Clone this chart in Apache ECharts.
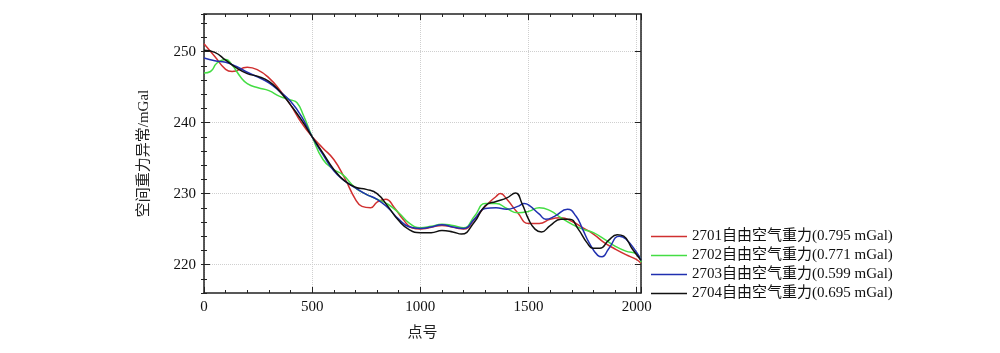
<!DOCTYPE html>
<html>
<head>
	<meta charset="utf-8">
	<title>空间重力异常</title>
	<script src="https://cdn.jsdelivr.net/npm/echarts@6/dist/echarts.min.js"></script>
	<style>
		html,body{margin:0;padding:0;background:#fff}
	</style>
</head>
<body>
<div id="main_echarts" style="width: 1000px;height:353px;"></div>
<script>
	// 数据：[点号, 空间重力异常 mGal]
	var names = ['2701自由空气重力(0.795 mGal)', '2702自由空气重力(0.771 mGal)', '2703自由空气重力(0.599 mGal)', '2704自由空气重力(0.695 mGal)'];
	var colors = ['#d03030', '#44dd44', '#2030b0', '#111111'];
	var yLabels = [220, 230, 240, 250];
	var xLabels = [0, 500, 1000, 1500, 2000];

	var red = [[0,251.1],[50,249.3],[100,247.5],[130,247.2],[200,247.8],[250,247.4],[300,246.3],[350,244.6],[400,242.5],[450,240],[500,238],[550,236.4],[600,234.8],[650,232.2],[700,229.2],[730,228.2],[770,228],[800,228.8],[840,229.2],[880,228],[920,226.4],[960,225.2],[1000,225],[1100,225.5],[1200,225],[1250,226.4],[1300,228.2],[1350,229.6],[1370,230],[1400,229.2],[1450,227.3],[1500,225.8],[1550,225.8],[1600,226.4],[1650,226.6],[1700,226.1],[1750,225.2],[1800,224.3],[1850,223.1],[1900,222.2],[1950,221.4],[2000,220.7],[2020,220.2]];
	var green = [[0,247],[30,247.2],[60,248.4],[100,248.9],[130,248.1],[170,246.4],[200,245.5],[250,244.9],[300,244.5],[350,243.7],[400,243.2],[430,242.8],[460,241],[500,238],[550,234.8],[600,233.4],[640,232.7],[700,230.8],[750,229.9],[800,229.2],[850,228.5],[900,227.3],[950,225.8],[1000,225.2],[1050,225.4],[1100,225.7],[1150,225.5],[1200,225.2],[1250,226.8],[1300,228.6],[1350,228.6],[1400,227.9],[1450,227.3],[1500,227.5],[1550,228],[1600,227.6],[1650,226.6],[1700,225.7],[1750,225],[1800,224.5],[1850,223.6],[1900,222.6],[1950,221.9],[2000,221.5],[2020,220.3]];
	var blue = [[0,249.1],[50,248.7],[100,248.5],[150,247.9],[200,247.1],[250,246.4],[300,245.6],[350,244.4],[400,243],[450,240.9],[500,238],[550,235.5],[600,233.2],[650,231.8],[700,230.8],[750,229.9],[800,229.2],[850,228],[900,226.4],[950,225.3],[1000,225.1],[1050,225.3],[1100,225.6],[1150,225.3],[1200,225.1],[1250,226.4],[1300,227.9],[1350,228],[1400,227.8],[1450,228.2],[1480,228.6],[1500,228.4],[1550,227.1],[1580,226.4],[1620,226.8],[1680,227.8],[1720,226.8],[1750,225],[1780,223.1],[1820,221.3],[1840,221.1],[1870,222.2],[1920,224],[1950,223.6],[2000,221.7],[2020,220.6]];
	var black = [[0,250.2],[50,249.9],[100,248.8],[150,247.7],[200,246.9],[250,246.5],[300,245.8],[350,244.4],[400,242.5],[450,240.4],[500,238],[550,235.7],[600,233.4],[650,231.8],[700,230.9],[750,230.6],[800,230],[850,228.2],[900,226.2],[950,224.9],[1000,224.5],[1050,224.5],[1100,224.8],[1150,224.6],[1190,224.3],[1250,226],[1300,228.3],[1350,228.9],[1400,229.4],[1440,230.1],[1470,228.6],[1500,226.4],[1530,225],[1560,224.6],[1600,225.5],[1650,226.4],[1690,226.4],[1730,225],[1770,223.1],[1800,222.3],[1830,222.3],[1870,223.4],[1910,224.2],[1940,224],[1980,222.2],[2020,220.6]];
	var seriesData = [red, green, blue, black];

	var font = '"Liberation Serif", "Noto Sans CJK SC", serif';
	var axisColor = '#222';
	var yMin = 216, yMax = 255.3, xMax = 2020;

	var chartDom = document.getElementById('main_echarts');
	var myChart = echarts.init(chartDom);

	var minorY = {
		min: yMin, max: yMax, interval: 2,
		axisLine: {show: false},
		axisTick: {show: true, inside: true, length: 3, lineStyle: {color: axisColor}},
		axisLabel: {show: false},
		splitLine: {show: false}
	};
	var majorYExtra = {
		min: yMin, max: yMax,
		axisLine: {show: true, onZero: false, lineStyle: {color: axisColor, width: 1.5}},
		axisTick: {show: true, inside: true, length: 6, customValues: yLabels, lineStyle: {color: axisColor}},
		axisLabel: {show: false},
		splitLine: {show: false}
	};

	var option = {
		animation: false,
		textStyle: {fontFamily: font},
		color: colors,
		grid: {left: 204, right: 359, top: 14, bottom: 60},
		legend: {
			orient: 'vertical',
			left: 646,
			top: 224,
			icon: 'rect',
			itemWidth: 36,
			itemHeight: 1.5,
			itemGap: 4,
			textStyle: {fontFamily: font, fontSize: 15, lineHeight: 14, color: '#111'},
			data: names
		},
		xAxis: [{
			type: 'value', min: 0, max: xMax, interval: 500,
			name: '点号', nameLocation: 'middle', nameGap: 33,
			nameTextStyle: {fontFamily: font, fontSize: 15, color: '#222'},
			axisLine: {show: true, onZero: false, lineStyle: {color: axisColor, width: 1.5}},
			axisTick: {show: true, inside: true, length: 6, lineStyle: {color: axisColor}},
			minorTick: {show: true, splitNumber: 5, length: 3, lineStyle: {color: axisColor}},
			axisLabel: {
				fontSize: 15, color: '#111', margin: 7,
				customValues: xLabels,
				formatter: function (v) { return String(v); }
			},
			splitLine: {show: true, lineStyle: {color: '#cfcfcf', type: 'dotted'}}
		}, {
			type: 'value', min: 0, max: xMax, interval: 500, position: 'top',
			axisLine: {show: true, onZero: false, lineStyle: {color: axisColor, width: 1.5}},
			axisTick: {show: true, inside: true, length: 6, lineStyle: {color: axisColor}},
			minorTick: {show: true, splitNumber: 5, length: 3, lineStyle: {color: axisColor}},
			axisLabel: {show: false},
			splitLine: {show: false}
		}],
		yAxis: [Object.assign({}, majorYExtra, {
			position: 'left',
			name: '空间重力异常/mGal', nameLocation: 'middle', nameGap: 52, nameRotate: 90,
			nameTextStyle: {fontFamily: font, fontSize: 15, color: '#222'},
			axisLabel: {show: true, fontSize: 15, color: '#111', margin: 8, customValues: yLabels},
			splitLine: {show: true, lineStyle: {color: '#cfcfcf', type: 'dotted'}}
		}),
			Object.assign({}, minorY, {position: 'left'}),
			Object.assign({}, majorYExtra, {position: 'right'}),
			Object.assign({}, minorY, {position: 'right'})
		],
		series: seriesData.map(function (d, i) {
			return {
				name: names[i],
				type: 'line',
				xAxisIndex: 0,
				yAxisIndex: 0,
				smooth: true,
				symbol: 'none',
				lineStyle: {width: 1.5, color: colors[i]},
				data: d
			};
		})
	};
	option && myChart.setOption(option);
</script>
</body>
</html>
